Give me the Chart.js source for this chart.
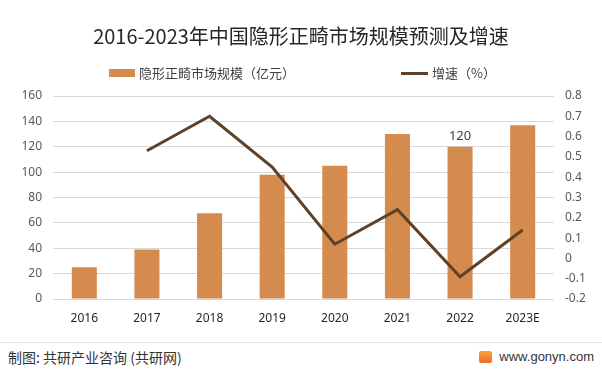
<!DOCTYPE html>
<html>
<head>
<meta charset="utf-8">
<script src="https://cdn.jsdelivr.net/npm/chart.js@4/dist/chart.umd.min.js"></script>
<style>
  html, body { margin: 0; padding: 0; background: #fff; }
  body { width: 602px; height: 375px; position: relative; overflow: hidden; font-family: "Noto Sans CJK SC", "Noto Sans", sans-serif; }
  #title { position: absolute; left: 0; top: 22px; width: 602px; text-align: center; font-size: 20px; color: #262626; line-height: 28px; }
  .leg { position: absolute; top: 64px; font-size: 13px; color: #404040; line-height: 18px; white-space: nowrap; }
  .leg i { display: inline-block; vertical-align: middle; margin-right: 4px; position: relative; top: -1px; }
  #chartBox { position: absolute; left: 0; top: 0; width: 602px; height: 341px; }
  #footLine { position: absolute; left: 0; top: 342px; width: 602px; height: 1px; background: #e4e4e4; }
  #footL { position: absolute; left: 8px; top: 348px; font-size: 14px; color: #333; line-height: 18px; }
  #footR { position: absolute; right: 8px; top: 348px; font-family: "Liberation Sans", Arial, sans-serif; font-size: 13px; color: #333; line-height: 18px; white-space: nowrap; display: flex; align-items: center; }
  #logo { display: inline-block; width: 13px; height: 12px; margin-right: 7px; border-radius: 2px; background: linear-gradient(#f7a23b, #ee6a2c); }
</style>
</head>
<body>
<div id="chartBox"><canvas id="c" width="602" height="341"></canvas></div>
<div id="title">2016-2023年中国隐形正畸市场规模预测及增速</div>
<div class="leg" style="left:109px"><i style="width:26px;height:8px;background:#D48B4D"></i>隐形正畸市场规模（亿元）</div>
<div class="leg" style="left:401px"><i style="width:27px;height:3px;background:#5E4129"></i>增速（%）</div>
<div id="footLine"></div>
<div id="footL">制图: 共研产业咨询 (共研网)</div>
<div id="footR"><span id="logo"></span><span>www.gonyn.com</span></div>
<script>
// 数据
const years = ["2016", "2017", "2018", "2019", "2020", "2021", "2022", "2023E"];
const marketSize = [25, 39, 67.5, 98, 105, 130, 120, 137];
const growth = [null, 0.53, 0.70, 0.45, 0.07, 0.24, -0.09, 0.14];
const labelIdx = 6; // 只有2022年标了数值

const BAR = "#D48B4D";
const LINE = "#5E4129";
const TICK = "#595959";

const barLabel = {
  id: "barLabel",
  afterDatasetsDraw(chart) {
    const el = chart.getDatasetMeta(0).data[labelIdx];
    if (!el) return;
    const ctx = chart.ctx;
    ctx.save();
    ctx.font = '13px "Noto Sans", sans-serif';
    ctx.fillStyle = "#404040";
    ctx.textAlign = "center";
    ctx.textBaseline = "bottom";
    ctx.fillText(String(marketSize[labelIdx]), el.x, el.y - 4);
    ctx.restore();
  }
};

new Chart(document.getElementById("c"), {
  data: {
    labels: years,
    datasets: [
      { type: "bar", label: "隐形正畸市场规模（亿元）", data: marketSize, backgroundColor: BAR,
        yAxisID: "y", categoryPercentage: 1, barPercentage: 0.4, order: 1 },
      { type: "line", label: "增速（%）", data: growth, borderColor: LINE, borderWidth: 3,
        pointRadius: 0, tension: 0, yAxisID: "y1", order: 0 }
    ]
  },
  options: {
    responsive: false,
    animation: false,
    layout: { padding: { top: 96, left: 0, right: 0, bottom: 0 } },
    plugins: { legend: { display: false }, title: { display: false }, tooltip: { enabled: false } },
    scales: {
      x: {
        grid: { display: false, drawTicks: false },
        border: { display: false },
        ticks: { color: "#262626", font: { size: 12, family: '"Noto Sans", sans-serif' }, padding: 12, maxRotation: 0 },
        afterFit(s) { s.height = 42; }
      },
      y: {
        position: "left", min: 0, max: 160,
        ticks: { stepSize: 20, color: TICK, font: { size: 12, family: '"Noto Sans", sans-serif' }, padding: 11 },
        grid: { color: "#d9d9d9", drawTicks: false },
        border: { display: false },
        afterFit(s) { s.width = 53; }
      },
      y1: {
        position: "right", min: -0.2, max: 0.8,
        ticks: { stepSize: 0.1, color: TICK, font: { size: 12, family: '"Noto Sans", sans-serif' }, padding: 11,
          callback: v => String(Math.round(v * 10) / 10) },
        grid: { display: false, drawTicks: false },
        border: { display: false },
        afterFit(s) { s.width = 48; }
      }
    }
  },
  plugins: [barLabel]
});
</script>
</body>
</html>
